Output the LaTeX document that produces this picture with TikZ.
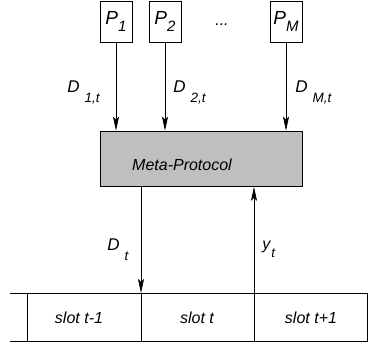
\documentclass[tikz,border=0pt]{standalone}
\usepackage{fontspec}
\setmainfont{Liberation Sans}
\usetikzlibrary{positioning,arrows.meta}

\newcommand{\plab}[1]{P\kern0pt\raisebox{-7pt}{\fontsize{15}{15}\selectfont #1}}
\newcommand{\dlab}[2]{{\fontsize{17}{17}\selectfont #1}\kern5pt\raisebox{-10pt}{\fontsize{13.5}{13.5}\selectfont #2}}

\begin{document}
\begin{tikzpicture}[x=1pt, y=1pt, >={Stealth[length=14pt, width=6pt, inset=3pt]},
  line width=0.7pt, font=\fontsize{16}{19}\selectfont\itshape]

\tikzset{
  proc/.style={draw, minimum width=32pt, minimum height=41pt, inner sep=0pt,
    font=\fontsize{19}{19}\selectfont\itshape},
  meta/.style={draw, fill=gray!50, minimum width=202pt, minimum height=55.5pt},
  lab/.style={anchor=base west, inner sep=0pt},
}

\useasboundingbox (0,0) rectangle (377,346);

\foreach \m/\x in {1/116, 2/165, M/286}
  \node [proc] (proc-\m) at (\x,324.5) {\plab{\m}};
\node (dots) at (222,321) {...};

\node [meta] (meta) at (201,187.25) {};
\node (meta-text) at (182,181) {Meta-Protocol};

\foreach \m in {1,2,M}
  \draw [->] (proc-\m) -- (proc-\m |- meta.north);

\node [lab] (d-1) at (67,254) {\dlab{D}{1,t}};
\node [lab] (d-2) at (173,254) {\dlab{D}{2,t}};
\node [lab] (d-M) at (295,254) {\dlab{D}{M,t}};

% time line
\coordinate (line-w) at (10,53);
\coordinate (line-e) at (368,53);
\draw (line-w) -- (line-e);
\draw (line-w |- 0,4.3) -- (line-e |- 0,4.3);

\foreach \x [count=\i] in {27,141,254,367}
  \coordinate (tick-\i) at (\x,53);
\foreach \i in {1,...,4}
  \draw (tick-\i) -- ++(0,-48.7);

\node (slot-1) at (79,28) {slot t-1};
\node (slot-2) at (197,28) {slot t};
\node (slot-3) at (311,28) {slot t+1};

\draw [->] (meta.south -| tick-2) -- (tick-2);
\draw [->] (tick-3) -- (tick-3 |- meta.south);

\node [lab] (d-t) at (107,96) {\dlab{D}{t}};
\node [lab] (y-t) at (262,97) {y\kern1pt\raisebox{-8pt}{\fontsize{13.5}{13.5}\selectfont t}};

\end{tikzpicture}
\end{document}
